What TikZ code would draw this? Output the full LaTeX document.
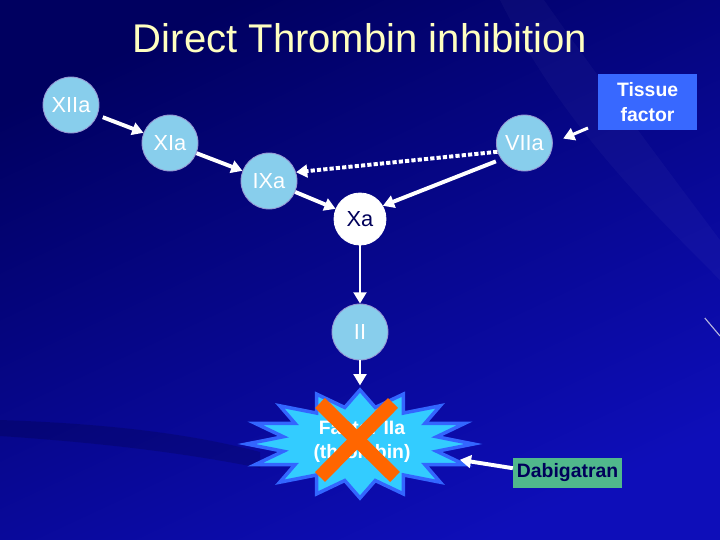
\documentclass[tikz,border=0pt]{standalone}
\usepackage{fontspec}
\setmainfont{Liberation Sans}
\usetikzlibrary{arrows.meta,shapes.geometric}
\definecolor{bgtop}{RGB}{0,0,96}
\definecolor{bgbot}{RGB}{14,14,185}
\definecolor{factorblue}{RGB}{136,206,236}
\definecolor{rimblue}{RGB}{150,150,210}
\definecolor{titleyellow}{RGB}{255,255,192}
\definecolor{tissueblue}{RGB}{56,104,255}
\definecolor{dabigreen}{RGB}{80,184,140}
\definecolor{navytext}{RGB}{0,0,90}
\definecolor{burstfill}{RGB}{51,204,255}
\definecolor{burstrim}{RGB}{51,102,255}
\definecolor{crossorange}{RGB}{255,102,0}
\tikzset{
  factor/.style={circle, fill=factorblue, draw=rimblue, line width=0.6pt,
    minimum size=1.4cm, inner sep=0pt, text=white, font=\fontsize{15.5}{18}\selectfont},
  arr/.style={white, line width=2.8pt, -{Triangle[length=8pt,width=9pt]}},
  labelbox/.style={rectangle, inner sep=0pt, align=center,
    font=\bfseries\fontsize{13.8}{17.5}\selectfont},
  cross/.style={crossorange, line width=10pt}
}

\begin{document}
\begin{tikzpicture}
  \useasboundingbox (0,0) rectangle (18,-13.5);
  \shade[top color=bgtop, bottom color=bgbot, shading angle=25] (0,0) rectangle (18,-13.5);
  % faint streaks of the slide background
  \fill[white, opacity=0.03] (12.5,0) .. controls (14,-3) and (16,-5) .. (18,-7)
    -- (18,-6) .. controls (16.5,-4) and (15,-2) .. (13.6,0) -- cycle;
  \fill[black, opacity=0.15] (0,-10.9) .. controls (3,-11.1) and (5,-11.4) .. (6.5,-11.7)
    -- (6.5,-11.3) .. controls (5,-10.9) and (3,-10.6) .. (0,-10.5) -- cycle;
  \draw[rimblue!70!white, line width=0.8pt] (17.62,-7.95) -- (18,-8.4);

  \node[font=\fontsize{28.5}{34}\selectfont, text=titleyellow] (title) at (9,-0.95) {Direct Thrombin inhibition};

  \node[factor] (xiia) at (1.775,-2.625) {XIIa};
  \node[factor] (xia) at (4.25,-3.575) {XIa};
  \node[factor] (ixa) at (6.725,-4.525) {IXa};
  \node[factor] (viia) at (13.11,-3.575) {VIIa};
  \node[factor, fill=white, draw=white, text=navytext, minimum size=1.3cm] (xa) at (9,-5.475) {Xa};
  \node[factor] (ii) at (9,-8.3) {II};

  \node[labelbox, fill=tissueblue, text=white, minimum width=2.475cm, minimum height=1.4cm] (tf) at (16.19,-2.55) {Tissue\\factor};
  \node[labelbox, fill=dabigreen, text=navytext, minimum width=2.725cm, minimum height=0.75cm] (dab) at (14.19,-11.825) {Dabigatran};

  \node[star, star points=16, star point ratio=1.45, minimum size=2.7cm, xscale=2.1,
    fill=burstfill, draw=burstrim, line width=2.5pt, inner sep=0pt] (thr) at (9,-11.1) {};
  \node[labelbox, text=white] (thrlabel) at (9.05,-11.05) {Factor IIa\\(thrombin)};
  \draw[cross] (8,-10.075) -- (9.875,-11.925);
  \draw[cross] (9.825,-10.075) -- (8,-11.925);

  \coordinate (tfout) at (14.7,-3.2);
  \draw[arr, shorten <=4pt] (xiia) -- (xia);
  \draw[arr] (xia) -- (ixa);
  \draw[arr] (ixa) -- (xa);
  \draw[arr, dash pattern=on 3pt off 1.5pt] (viia.198) -- (ixa.18);
  \draw[arr, shorten <=4pt] (viia.215) -- (xa.30);
  \draw[arr, line width=2.2pt, shorten >=8pt] (tfout) -- (viia.east);
  \draw[arr, line width=2pt] (xa) -- (ii);
  \draw[arr, line width=2pt] (ii) -- (ii |- thr.north);
  \draw[arr] (dab.175) -- (thr);
\end{tikzpicture}
\end{document}
